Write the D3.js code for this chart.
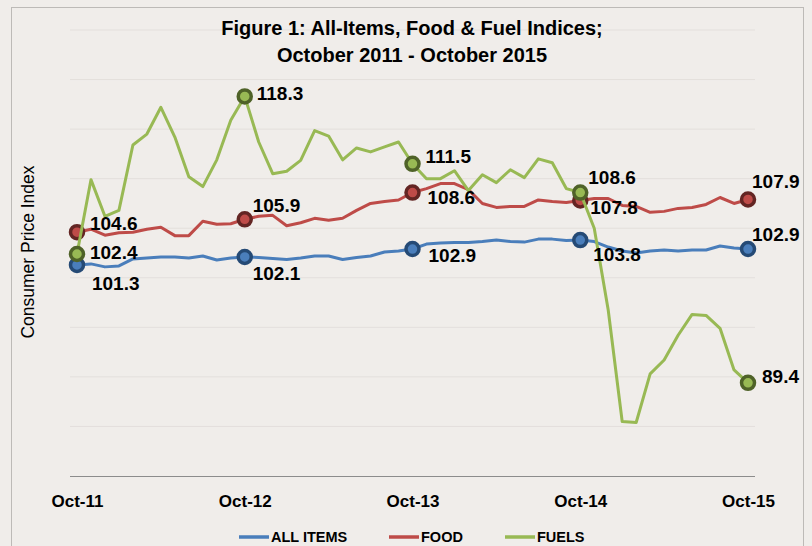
<!DOCTYPE html>
<meta charset="utf-8">
<script src="https://d3js.org/d3.v7.min.js"></script>
<style>
  body { margin: 0; background: #f0edea; }
  text { font-family: "Liberation Sans", Arial, sans-serif; }
</style>
<svg width="812" height="546"></svg>
<script>

    // Oct-11 .. Oct-15, one value per month
    const allItems = [101.3, 101.4, 101.1, 101.2, 101.9, 102.0, 102.1, 102.1, 102.0, 102.2, 101.8, 102.0,
        102.1, 102.05, 101.95, 101.85, 102.0, 102.2, 102.2, 101.85, 102.05, 102.2, 102.6, 102.7,
        102.9, 103.4, 103.5, 103.55, 103.55, 103.65, 103.8, 103.65, 103.6, 103.9, 103.9, 103.75,
        103.8, 103.65, 103.1, 102.7, 102.5, 102.7, 102.8, 102.7, 102.8, 102.8, 103.2, 103.0,
        102.9];
    const food = [104.6, 104.9, 104.3, 104.55, 104.6, 104.9, 105.1, 104.25, 104.25, 105.7, 105.4, 105.45,
        105.9, 106.2, 106.3, 105.25, 105.55, 106.0, 105.8, 106.0, 106.8, 107.5, 107.7, 107.85,
        108.6, 109.0, 109.5, 109.5, 108.9, 107.5, 107.1, 107.2, 107.2, 107.85, 107.7, 107.6,
        107.8, 108.0, 108.0, 107.3, 107.2, 106.6, 106.7, 107.0, 107.1, 107.4, 108.1, 107.5,
        107.9];
    const fuels = [102.4, 109.9, 106.2, 106.8, 113.4, 114.5, 117.2, 114.2, 110.2, 109.2, 111.9, 115.9,
        118.3, 113.7, 110.5, 110.75, 111.85, 114.85, 114.3, 111.9, 113.1, 112.7, 113.2, 113.7,
        111.5, 110.0, 110.0, 110.8, 108.8, 110.4, 109.6, 110.9, 110.1, 112.0, 111.6, 109.0,
        108.6, 105.0, 96.75, 85.5, 85.4, 90.3, 91.7, 94.2, 96.3, 96.2, 94.9, 90.7,
        89.4];

    const seriesNames = ["ALL ITEMS", "FOOD", "FUELS"];
    const tickLabels = ["Oct-11", "Oct-12", "Oct-13", "Oct-14", "Oct-15"];
    const yTicks = [80, 85, 90, 95, 100, 105, 110, 115, 120, 125];

    const months = d3.timeMonths(new Date(2011, 9, 1), new Date(2015, 10, 1)).map(d3.timeFormat("%b-%y"));

    const lineColors = ["#4a7ebb", "#be4b48", "#98b954"];
    const markerStroke = ["#254a75", "#632523", "#4f6228"];

    // annotation placement (offset from marker: dx, dy)
    const labelOffsets = [
        [[15, 18], [13, -9], [13, -2]],
        [[8, 16], [8, -14], [12, -3]],
        [[16, 6], [15, 5], [13, -7]],
        [[13, 14], [10, 7], [8, -15]],
        [[4, -15], [4, -18], [14, -6]]
    ];

    const series = [allItems, food, fuels].map((vals, k) => ({
        name: seriesNames[k],
        values: vals.map((v, i) => ({month: months[i], value: v}))
    }));

    const svg = d3.select("svg");

    const x = d3.scalePoint()
        .domain(months)
        .range([70, 755])
        .padding(0.5);

    const y = d3.scaleLinear()
        .domain([80, 125])
        .range([476, 30]);

    // chart frame
    svg.append("rect")
        .attr("x", 11.5).attr("y", 7.5)
        .attr("width", 792).attr("height", 560)
        .attr("fill", "#f0edea")
        .attr("stroke", "#bdbab7");

    // gridlines
    svg.append("g")
        .selectAll("line")
        .data(yTicks.slice(1))
        .join("line")
        .attr("x1", 70).attr("x2", 755)
        .attr("y1", d => y(d)).attr("y2", d => y(d))
        .attr("stroke", "#e3dfdc")
        .attr("stroke-width", 1);

    // x axis
    const xAxis = svg.append("g")
        .attr("transform", "translate(0," + y(80) + ")")
        .call(d3.axisBottom(x).tickValues(tickLabels).tickSize(0).tickPadding(19));
    xAxis.select(".domain").attr("stroke", "#8c8c8c").attr("d", "M70,0.5H755");
    xAxis.selectAll("text")
        .style("font-family", "Liberation Sans, Arial, sans-serif")
        .style("font-size", "17px")
        .style("font-weight", "bold")
        .attr("fill", "#000");

    // title
    const title = svg.append("text")
        .attr("text-anchor", "middle")
        .style("font-size", "20px")
        .style("font-weight", "bold");
    title.append("tspan").attr("x", 412).attr("y", 35).text("Figure 1: All-Items, Food & Fuel Indices;");
    title.append("tspan").attr("x", 412).attr("y", 62).text("October 2011 - October 2015");

    // y axis title
    svg.append("text")
        .attr("transform", "translate(34,252) rotate(-90)")
        .attr("text-anchor", "middle")
        .style("font-size", "17.5px")
        .text("Consumer Price Index");

    const line = d3.line()
        .x(d => x(d.month))
        .y(d => y(d.value));

    series.forEach((s, k) => {
        svg.append("path")
            .datum(s.values)
            .attr("fill", "none")
            .attr("stroke", lineColors[k])
            .attr("stroke-width", 3)
            .attr("stroke-linejoin", "round")
            .attr("d", line);

        svg.append("g")
            .selectAll("circle")
            .data(s.values.filter(d => tickLabels.includes(d.month)))
            .join("circle")
            .attr("cx", d => x(d.month))
            .attr("cy", d => y(d.value))
            .attr("r", 6.5)
            .attr("fill", lineColors[k])
            .attr("stroke", markerStroke[k])
            .attr("stroke-width", 3.5);
    });

    // data labels
    series.forEach((s, k) => {
        svg.append("g")
            .selectAll("text")
            .data(s.values.filter(d => tickLabels.includes(d.month)))
            .join("text")
            .attr("x", d => x(d.month) + labelOffsets[tickLabels.indexOf(d.month)][k][0])
            .attr("y", d => y(d.value) + labelOffsets[tickLabels.indexOf(d.month)][k][1])
            .attr("dy", "0.35em")
            .style("font-size", "19px")
            .style("font-weight", "bold")
            .text(d => d3.format(".1f")(d.value));
    });

    // legend
    const legendX = [239, 389, 505];
    const legend = svg.append("g")
        .selectAll("g")
        .data(seriesNames)
        .join("g")
        .attr("transform", (d, i) => "translate(" + legendX[i] + ",537)");
    legend.append("line")
        .attr("x1", 0).attr("x2", 30)
        .attr("stroke", (d, i) => lineColors[i])
        .attr("stroke-width", 3.5);
    legend.append("text")
        .attr("x", 32)
        .attr("dy", "0.35em")
        .style("font-size", "14.5px")
        .style("font-weight", "bold")
        .text(d => d);

</script>
